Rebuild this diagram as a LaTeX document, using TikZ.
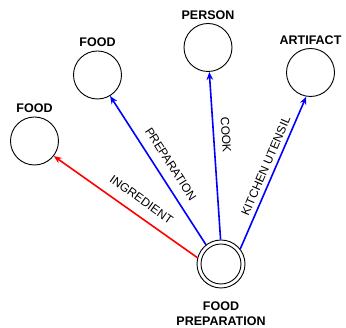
\documentclass[tikz,border=0pt]{standalone}
\usepackage{fontspec}
\setmainfont{Liberation Sans}
\usetikzlibrary{arrows.meta}

\tikzset{
  concept/.style={circle, draw=black, line width=0.9pt, minimum size=48pt, inner sep=0pt},
  conceptname/.style={font=\fontsize{12.5}{15}\selectfont\bfseries, align=center, text=black},
  relation/.style={line width=1.6pt, -{Stealth[length=8pt,width=6.5pt]}},
  rellabel/.style={font=\fontsize{12}{14}\selectfont, sloped, above, inner xsep=0pt, text=black},
}

\begin{document}
\begin{tikzpicture}[x=1pt, y=1pt]
  \useasboundingbox (0,0) rectangle (346,-328);

  % concepts
  \node[concept, label={[conceptname]above:FOOD}] (food1) at (34.5,-141) {};
  \node[concept, label={[conceptname]above:FOOD}] (food2) at (97.5,-75) {};
  \node[concept, label={[conceptname]above:PERSON}] (person) at (208,-47.5) {};
  \node[concept, label={[conceptname]above:ARTIFACT}] (artifact) at (310.5,-72.5) {};
  \node[concept, label={[conceptname, label distance=10pt]below:FOOD\\PREPARATION}] (prep) at (221,-264) {};
  \node[circle, draw=black, line width=0.9pt, minimum size=40pt, inner sep=0pt] (prepinner) at (prep.center) {};

  % relations
  \draw[relation, red] (prep.165) -- node[rellabel, pos=0.45, inner ysep=10pt] {INGREDIENT} (food1.-38);
  \draw[relation, blue] (prep.128) -- node[rellabel, pos=0.49, inner ysep=9pt] {PREPARATION} (food2.-59);
  \draw[relation, blue] (prep.91) -- node[rellabel, pos=0.62, inner ysep=7.3pt] {COOK} (person.-87);
  \draw[relation, blue] (prep.38) -- node[rellabel, pos=0.52, inner ysep=4.5pt] {KITCHEN UTENSIL} (artifact.-100);
\end{tikzpicture}
\end{document}
